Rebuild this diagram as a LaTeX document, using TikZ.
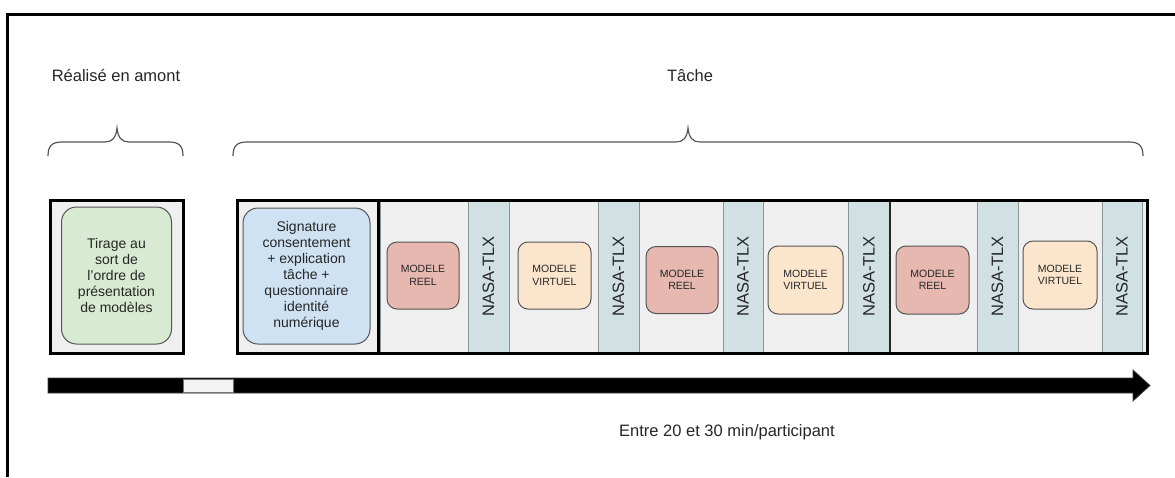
\documentclass[tikz,border=0pt]{standalone}
\usepackage{fontspec}
\setmainfont{Liberation Sans}
\definecolor{cellgray}{HTML}{EFEFEF}
\definecolor{greenfill}{HTML}{D9EAD3}
\definecolor{bluefill}{HTML}{CFE2F3}
\definecolor{pinkfill}{HTML}{E6B8AF}
\definecolor{orangefill}{HTML}{FCE5CD}
\definecolor{nasafill}{HTML}{D0E0E3}
\definecolor{nasaline}{HTML}{8A9597}
\definecolor{boxline}{HTML}{555555}
\definecolor{textgray}{HTML}{262626}
\definecolor{gapfill}{HTML}{F3F3F3}
\tikzset{
  outerbox/.style={draw=black, line width=3pt, fill=cellgray},
  rbox/.style={draw=boxline, line width=1pt, rounded corners=15pt, align=center,
    inner sep=2pt, text=textgray, font=\fontsize{14}{16}\selectfont},
  modelbox/.style={draw=boxline, line width=1pt, rounded corners=10pt, align=center,
    inner sep=1pt, text=textgray, font=\fontsize{10.5}{12.5}\selectfont,
    minimum width=72pt, minimum height=67pt},
  reel/.style={modelbox, fill=pinkfill},
  virt/.style={modelbox, fill=orangefill},
  nasacol/.style={draw=nasaline, fill=nasafill, line width=0.8pt, minimum width=41pt,
    minimum height=151pt, inner sep=0pt, text=textgray, font=\fontsize{16.5}{19}\selectfont},
  header/.style={text=textgray, font=\fontsize{16.5}{19}\selectfont, inner sep=0pt},
  bracepath/.style={draw=boxline, line width=1.2pt},
  frameline/.style={draw=black, line width=3pt}
}
\begin{document}
\begin{tikzpicture}[x=1pt,y=-1pt]
\useasboundingbox (0,0) rectangle (1175,477);
% frame
\draw[frameline] (7,477) -- (7,14) -- (1175,14);
% headers
\node[header] (amont) at (116,76) {Réalisé en amont};
\node[header] (tache) at (690,76) {Tâche};
% braces
\draw[bracepath] (48,156) .. controls (48,146) and (52,142) .. (62,142) -- (105,142)
  .. controls (112,142) and (116,138) .. (117,128)
  .. controls (118,138) and (122,142) .. (129,142) -- (169,142)
  .. controls (179,142) and (183,146) .. (183,156);
\draw[bracepath] (233,156) .. controls (233,146) and (237,142) .. (247,142) -- (676,142)
  .. controls (683,142) and (687,138) .. (688,128)
  .. controls (689,138) and (693,142) .. (700,142) -- (1129,142)
  .. controls (1139,142) and (1143,146) .. (1143,156);
% first box
\node[outerbox, minimum width=133pt, minimum height=153pt, inner sep=0pt] (pre) at (116.5,276.5) {};
\node[rbox, fill=greenfill, minimum width=110pt, minimum height=137pt] (tirage) at (116.5,275.5)
  {Tirage au\\sort de\\l'ordre de\\présentation\\de modèles};
% main box background
\node[fill=cellgray, minimum width=910pt, minimum height=153pt, inner sep=0pt] (mainbg) at (692,276.5) {};
% separators between cells
\foreach \xx in {380,509,639,763,890,1018} {
  \draw[draw=nasaline, line width=0.8pt] (\xx,201) -- (\xx,352);
}
% NASA columns
\node[nasacol] (n1) at (488.5,276.5) {\rotatebox{90}{NASA-TLX}};
\node[nasacol] (n2) at (618.5,276.5) {\rotatebox{90}{NASA-TLX}};
\node[nasacol, minimum width=40pt] (n3) at (743,276.5) {\rotatebox{90}{NASA-TLX}};
\node[nasacol, minimum width=42pt] (n4) at (869,276.5) {\rotatebox{90}{NASA-TLX}};
\node[nasacol] (n5) at (997.5,276.5) {\rotatebox{90}{NASA-TLX}};
\node[nasacol, minimum width=40pt] (n6) at (1122,276.5) {\rotatebox{90}{NASA-TLX}};
% group separator
\draw[draw=black!85, line width=1.6pt] (890,200) -- (890,353);
% main outline and first section
\draw[frameline] (237,200) rectangle (1147,353);
\draw[frameline] (378,200) -- (378,353);
% blue box
\node[rbox, fill=bluefill, minimum width=127pt, minimum height=136pt] (signature) at (306.5,276)
  {Signature\\consentement\\+ explication\\tâche +\\questionnaire\\identité\\numérique};
% model boxes
\node[reel] (m1) at (423,275.5) {MODELE\\REEL};
\node[virt, minimum width=73pt] (m2) at (554.5,275.5) {MODELE\\VIRTUEL};
\node[reel] (m3) at (682,280) {MODELE\\REEL};
\node[virt, minimum width=75pt, minimum height=68pt] (m4) at (805.5,280) {MODELE\\VIRTUEL};
\node[reel, minimum width=73pt, minimum height=68pt] (m5) at (932.5,280) {MODELE\\REEL};
\node[virt, minimum width=74pt, minimum height=68pt] (m6) at (1060,275) {MODELE\\VIRTUEL};
% timeline arrow
\filldraw[fill=black, draw=black!75, line width=0.8pt]
  (48,378) -- (1133,378) -- (1133,370) -- (1150,385.5) -- (1133,401) -- (1133,393) -- (48,393) -- cycle;
\node[draw=black!55, fill=gapfill, line width=0.8pt, minimum width=50pt, minimum height=13pt, inner sep=0pt] (gap) at (208,385.5) {};
\node[header, anchor=west] (duree) at (619,432) {Entre 20 et 30 min/participant};
\end{tikzpicture}
\end{document}
